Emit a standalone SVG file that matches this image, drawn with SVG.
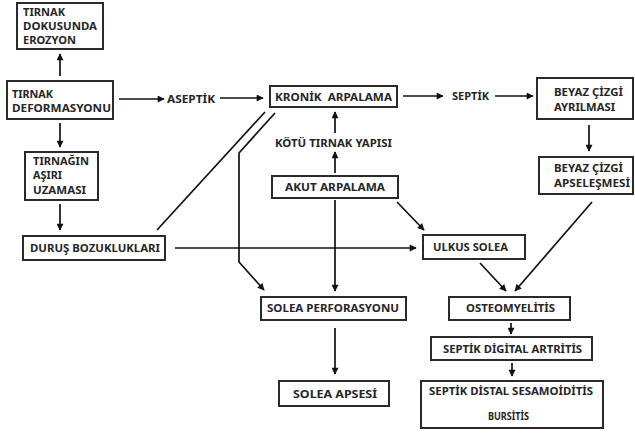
<svg xmlns="http://www.w3.org/2000/svg" width="635" height="433" viewBox="0 0 635 433">
<style>
.b{fill:#fff;stroke:#2a2a2a;stroke-width:2}
.t{font-family:"Noto Sans","Liberation Sans",sans-serif;font-weight:bold;font-size:11px;fill:#262626}
.c{fill:none;stroke:#111;stroke-width:1.7}
.a{marker-end:url(#ah)}
</style>
<defs>
<marker id="ah" viewBox="0 0 10 10" refX="9" refY="5" markerWidth="8" markerHeight="7" markerUnits="userSpaceOnUse" orient="auto">
<path d="M0,0L10,5L0,10z" fill="#111"/>
</marker>
</defs>
<rect width="635" height="433" fill="#fff"/>
<g id="connectors">
<line class="c a" x1="60" y1="76" x2="60" y2="54"/>
<line class="c a" x1="119" y1="99" x2="164" y2="99"/>
<line class="c a" x1="60" y1="123" x2="60" y2="147"/>
<line class="c a" x1="60" y1="204" x2="60" y2="230"/>
<line class="c a" x1="220" y1="98" x2="263" y2="98"/>
<line class="c a" x1="403" y1="96" x2="443" y2="96"/>
<line class="c a" x1="495" y1="96" x2="533" y2="96"/>
<line class="c a" x1="589" y1="125" x2="589" y2="151"/>
<line class="c" x1="265" y1="112" x2="157" y2="230"/>
<polyline class="c a" points="275,113 239,153 239,262 264,290"/>
<line class="c a" x1="175" y1="248" x2="416" y2="248"/>
<line class="c a" x1="335" y1="133" x2="335" y2="112"/>
<line class="c a" x1="335" y1="173" x2="335" y2="152"/>
<line class="c a" x1="335" y1="200" x2="335" y2="291"/>
<line class="c a" x1="397" y1="202" x2="424" y2="230"/>
<line class="c a" x1="480" y1="263" x2="506" y2="291"/>
<line class="c a" x1="592" y1="202" x2="515" y2="291"/>
<line class="c a" x1="511" y1="323" x2="511" y2="334"/>
<line class="c a" x1="512" y1="363" x2="512" y2="376"/>
<line class="c a" x1="335" y1="328" x2="335" y2="374"/>
</g>
<g id="erozyon">
<rect class="b" x="17" y="3" width="86" height="46"/>
<text class="t" x="23" y="16" textLength="42" lengthAdjust="spacingAndGlyphs">TIRNAK</text>
<text class="t" x="23" y="30" textLength="74" lengthAdjust="spacingAndGlyphs">DOKUSUNDA</text>
<text class="t" x="23" y="44" textLength="53" lengthAdjust="spacingAndGlyphs">EROZYON</text>
</g>
<g id="deformasyon">
<rect class="b" x="7" y="81" width="106" height="38"/>
<text class="t" x="12" y="98" textLength="41" lengthAdjust="spacingAndGlyphs">TIRNAK</text>
<text class="t" x="12" y="112" textLength="99" lengthAdjust="spacingAndGlyphs">DEFORMASYONU</text>
</g>
<g id="aseptik">
<text class="t" x="167" y="103" textLength="48" lengthAdjust="spacingAndGlyphs">ASEPTİK</text>
</g>
<g id="uzama">
<rect class="b" x="25" y="152" width="73" height="48"/>
<text class="t" x="33" y="165" textLength="56" lengthAdjust="spacingAndGlyphs">TIRNAĞIN</text>
<text class="t" x="33" y="179" textLength="29" lengthAdjust="spacingAndGlyphs">AŞIRI</text>
<text class="t" x="33" y="194" textLength="53" lengthAdjust="spacingAndGlyphs">UZAMASI</text>
</g>
<g id="durus">
<rect class="b" x="23" y="236" width="142" height="24"/>
<text class="t" x="30" y="252" textLength="130" lengthAdjust="spacingAndGlyphs">DURUŞ BOZUKLUKLARI</text>
</g>
<g id="kronik">
<rect class="b" x="270" y="86" width="127" height="21"/>
<text class="t" x="275" y="101" textLength="117" lengthAdjust="spacingAndGlyphs" xml:space="preserve">KRONİK  ARPALAMA</text>
</g>
<g id="kotu">
<text class="t" x="275" y="147" textLength="117" lengthAdjust="spacingAndGlyphs">KÖTÜ TIRNAK YAPISI</text>
</g>
<g id="akut">
<rect class="b" x="272" y="176" width="126" height="22"/>
<text class="t" x="285" y="191" textLength="100" lengthAdjust="spacingAndGlyphs">AKUT ARPALAMA</text>
</g>
<g id="septik">
<text class="t" x="452" y="100" textLength="37" lengthAdjust="spacingAndGlyphs">SEPTİK</text>
</g>
<g id="ayrilma">
<rect class="b" x="537" y="78" width="96" height="41"/>
<text class="t" x="554" y="96" textLength="69" lengthAdjust="spacingAndGlyphs">BEYAZ ÇİZGİ</text>
<text class="t" x="554" y="111" textLength="61" lengthAdjust="spacingAndGlyphs">AYRILMASI</text>
</g>
<g id="apselesme">
<rect class="b" x="539" y="157" width="94" height="37"/>
<text class="t" x="554" y="172" textLength="69" lengthAdjust="spacingAndGlyphs">BEYAZ ÇİZGİ</text>
<text class="t" x="554" y="187" textLength="76" lengthAdjust="spacingAndGlyphs">APSELEŞMESİ</text>
</g>
<g id="ulkus">
<rect class="b" x="423" y="235" width="102" height="24"/>
<text class="t" x="433" y="251" textLength="75" lengthAdjust="spacingAndGlyphs">ULKUS SOLEA</text>
</g>
<g id="perforasyon">
<rect class="b" x="261" y="297" width="145" height="23"/>
<text class="t" x="267" y="312" textLength="132" lengthAdjust="spacingAndGlyphs">SOLEA PERFORASYONU</text>
</g>
<g id="apse">
<rect class="b" x="279" y="381" width="110" height="25"/>
<text class="t" x="293" y="398" textLength="84" lengthAdjust="spacingAndGlyphs">SOLEA APSESİ</text>
</g>
<g id="osteomyelitis">
<rect class="b" x="449" y="297" width="121" height="23"/>
<text class="t" x="466" y="312" textLength="89" lengthAdjust="spacingAndGlyphs">OSTEOMYELİTİS</text>
</g>
<g id="artritis">
<rect class="b" x="431" y="337" width="161" height="23"/>
<text class="t" x="443" y="353" textLength="139" lengthAdjust="spacingAndGlyphs">SEPTİK DİGİTAL ARTRİTİS</text>
</g>
<g id="sesamoiditis">
<rect class="b" x="421" y="381" width="182" height="47"/>
<text class="t" x="429" y="395" textLength="164" lengthAdjust="spacingAndGlyphs">SEPTİK DİSTAL SESAMOİDİTİS</text>
<text class="t" x="488" y="420" textLength="41" lengthAdjust="spacingAndGlyphs">BURSİTİS</text>
</g>
</svg>
